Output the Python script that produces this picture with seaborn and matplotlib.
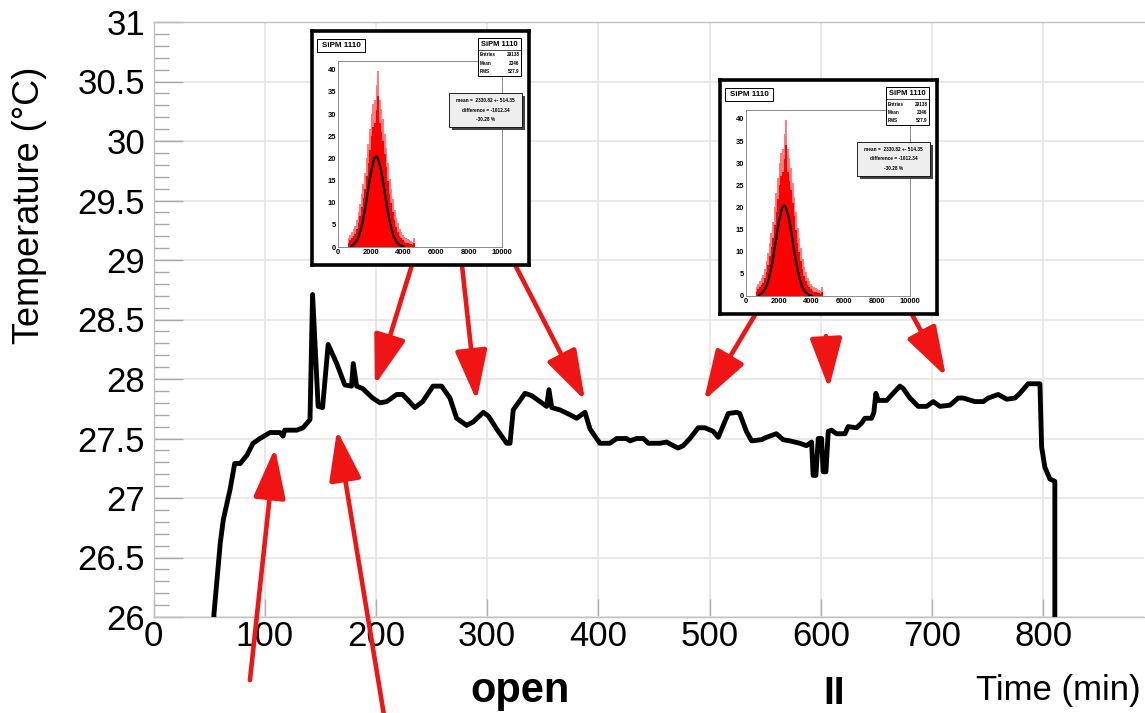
import numpy as np
import matplotlib
matplotlib.use("Agg")
import matplotlib.pyplot as plt
from matplotlib import font_manager
from matplotlib.patches import Rectangle
from matplotlib.ticker import MultipleLocator
import seaborn as sns

# ---------------- data ----------------
time_min = [54, 54.4, 60, 62.8, 68.8, 73, 78, 84, 89.5, 95.7, 104.7, 113.7, 116.5, 118,
            128.7, 134.4, 139, 140.7, 143, 148, 152, 157, 164.7, 172, 178, 179.6, 182.6,
            188, 197, 203.6, 209.6, 218.6, 224, 235, 242, 251.3, 259, 266.5, 272.5, 281.5,
            287.5, 296.5, 301, 308.5, 317.5, 320.5, 323.4, 329.4, 334, 340, 347.4, 353.4,
            355.5, 358, 365.4, 374.4, 380.4, 387.9, 392.4, 401.3, 410.3, 416.4, 425.3,
            428.3, 434.3, 440.3, 444.8, 455.3, 461.3, 467.2, 471.7, 476.2, 482.2, 489.7,
            495.7, 503.2, 507.7, 512.2, 516.7, 524.2, 527, 533, 537.7, 546.7, 551, 560,
            566, 572, 581, 587, 591.6, 593, 595.5, 597.6, 600.6, 602, 604.5, 606.6, 609.6,
            614, 621.6, 624.5, 632, 636.6, 639.5, 645.6, 647.6, 649.4, 651.5, 659, 665,
            671, 674, 680, 687.5, 695, 701, 707, 716, 723.4, 728, 738.4, 746, 750.4,
            759.4, 767, 774.4, 778.9, 786.3, 796.9, 798.4, 801.3, 805.8, 810.3, 810.3]
temp_c = [25.95, 26.03, 26.62, 26.82, 27.07, 27.29, 27.29, 27.36, 27.46, 27.5, 27.55, 27.55,
          27.52, 27.57, 27.57, 27.59, 27.64, 27.66, 28.71, 27.77, 27.76, 28.29, 28.13, 27.95,
          27.94, 28.13, 27.94, 27.92, 27.84, 27.8, 27.81, 27.87, 27.87, 27.76, 27.81, 27.94,
          27.94, 27.84, 27.67, 27.61, 27.64, 27.72, 27.69, 27.58, 27.46, 27.46, 27.74, 27.82,
          27.88, 27.86, 27.81, 27.77, 27.91, 27.76, 27.74, 27.7, 27.67, 27.72, 27.58, 27.46,
          27.46, 27.5, 27.5, 27.48, 27.5, 27.5, 27.46, 27.46, 27.47, 27.44, 27.42, 27.44,
          27.5, 27.59, 27.59, 27.56, 27.51, 27.61, 27.71, 27.72, 27.71, 27.56, 27.48, 27.49,
          27.51, 27.54, 27.49, 27.48, 27.46, 27.44, 27.47, 27.19, 27.19, 27.5, 27.5, 27.22,
          27.22, 27.56, 27.57, 27.54, 27.54, 27.6, 27.59, 27.63, 27.67, 27.67, 27.72, 27.88,
          27.82, 27.82, 27.88, 27.94, 27.92, 27.84, 27.77, 27.77, 27.81, 27.77, 27.78, 27.84,
          27.84, 27.81, 27.81, 27.84, 27.87, 27.83, 27.84, 27.88, 27.96, 27.96, 27.43, 27.26,
          27.16, 27.14, 25.9]

x_ticks = [0, 100, 200, 300, 400, 500, 600, 700, 800]
y_ticks = [26, 26.5, 27, 27.5, 28, 28.5, 29, 29.5, 30, 30.5, 31]
y_tick_labels = ["26", "26.5", "27", "27.5", "28", "28.5", "29", "29.5", "30", "30.5", "31"]

# arrows (time, temperature): tail -> head
arrow_tails = [(86.7, 25.47), (208, 25.13), (232.4, 28.96), (277.3, 28.96), (325, 28.96),
               (543.4, 28.58), (604.5, 28.36), (682, 28.54)]
arrow_heads = [(109.2, 27.42), (165, 27.57), (199, 27.95), (290.5, 27.82), (387.9, 27.82),
               (494.8, 27.82), (607.2, 27.92), (712.4, 28.02)]

# inset histogram (SiPM 1110)
hist_bin_centers = [650, 750, 850, 950, 1050, 1150, 1250, 1350, 1450, 1550, 1650, 1750, 1850,
                    1950, 2050, 2150, 2250, 2350, 2450, 2550, 2650, 2750, 2850, 2950, 3050,
                    3150, 3250, 3350, 3450, 3550, 3650, 3750, 3850, 3950, 4050, 4150, 4250,
                    4350, 4450, 4550, 4650]
hist_counts = [1, 1.5, 2, 2.5, 3, 4, 5.5, 7, 9, 11, 13, 16, 19, 22, 25, 27, 28, 31, 34, 28,
               26, 24, 21, 18, 15, 12, 10, 8, 6, 4.5, 3.5, 2.5, 2, 1.5, 1.2, 1, 0.8, 0.7,
               0.6, 0.5, 1]
fit_x = [800, 1000, 1200, 1400, 1600, 1800, 2000, 2200, 2330, 2400, 2600, 2800, 3000, 3200,
         3400, 3600, 3800, 4000]
fit_y = [0.24, 0.72, 1.82, 3.97, 7.48, 12.06, 16.7, 19.86, 20.5, 20.3, 17.86, 13.5, 8.77,
         4.9, 2.34, 0.97, 0.39, 0.14]
inset_x_ticks = [0, 2000, 4000, 6000, 8000, 10000]
inset_y_ticks = [0, 5, 10, 15, 20, 25, 30, 35, 40]
stats_rows = [("Entries", "29138"), ("Mean", "2346"), ("RMS", "527.9")]
fit_lines = ["mean =  2330.82 +- 514.35", "difference = -1012.34", "-30.28 %"]

# ---------------- style ----------------
sns.set_theme(style="white")
plt.rcParams["font.family"] = ["Liberation Sans", "DejaVu Sans"]
plt.rcParams["text.color"] = "black"
plt.rcParams["xtick.labelcolor"] = "black"
plt.rcParams["ytick.labelcolor"] = "black"
names = {f.name for f in font_manager.fontManager.ttflist}
narrow = "Liberation Sans Narrow" if "Liberation Sans Narrow" in names else None

W, H = 1145, 713


def fx(px):
    return px / W


def fy(py):
    return 1 - py / H


fig = plt.figure(figsize=(W / 100, H / 100), dpi=100)
fig.patch.set_facecolor("white")
ax = fig.add_axes([fx(153.5), fy(617), 990 / W, 595 / H])

sns.lineplot(x=time_min, y=temp_c, sort=False, estimator=None, color="black",
             lw=3.5, ax=ax, zorder=3)
ax.set_xlim(0, 890)
ax.set_ylim(26, 31)
ax.set_xticks(x_ticks)
ax.set_xticklabels([str(t) for t in x_ticks])
ax.set_yticks(y_ticks)
ax.set_yticklabels(y_tick_labels)
ax.yaxis.set_minor_locator(MultipleLocator(0.1))
ax.grid(True, which="major", color="#e3e3e3", lw=1.1, zorder=0)
ax.tick_params(axis="y", which="major", direction="in", length=21, width=1.0,
               color="#a8a8a8", labelsize=25, labelcolor="black", pad=6,
               left=True, right=False)
ax.tick_params(axis="y", which="minor", direction="in", length=11, width=1.0,
               color="#a8a8a8", left=True, right=False)
ax.tick_params(axis="x", which="major", direction="in", length=13, width=1.0,
               color="#b0b0b0", labelsize=25, labelcolor="black", pad=2,
               bottom=True, top=False)
for side, sp in ax.spines.items():
    sp.set_color("#c0c0c0")
    sp.set_linewidth(1.0)
ax.spines["right"].set_visible(False)
ax.set_xlabel("")
ax.set_ylabel("")

fig.text(fx(30), fy(205), "Temperature (°C)", rotation=90, ha="center", va="center",
         fontsize=26, color="black")
fig.text(fx(1141), fy(700), "Time (min)", ha="right", va="baseline", fontsize=25,
         color="black")
if narrow:
    fig.text(fx(520), fy(702), "open", ha="center", va="baseline", fontsize=36,
             fontweight="bold", family=narrow, color="black")
else:
    fig.text(fx(520), fy(702), "open", ha="center", va="baseline", fontsize=30,
             fontweight="bold", color="black")
fig.text(fx(834), fy(712), "II", ha="center", va="bottom", fontsize=28,
         fontweight="bold", color="black")

for tail, head in zip(arrow_tails, arrow_heads):
    ax.annotate("", xy=head, xytext=tail, annotation_clip=False,
                arrowprops=dict(arrowstyle="-|>,head_length=1.4,head_width=0.45",
                                mutation_scale=22, color="#f01414", lw=3.3,
                                shrinkA=0, shrinkB=0))


def draw_inset(dx, dy):
    box = fig.add_axes([fx(312 + dx), fy(265 + dy), 217 / W, 234 / H], zorder=5)
    box.set_xticks([])
    box.set_yticks([])
    box.set_facecolor("white")
    for sp in box.spines.values():
        sp.set_color("black")
        sp.set_linewidth(2.6)

    h = fig.add_axes([fx(338 + dx), fy(247 + dy), 164 / W, 186 / H], zorder=6)
    h.patch.set_alpha(0)
    h.errorbar(hist_bin_centers, hist_counts, yerr=np.sqrt(hist_counts), fmt="none",
               ecolor="#ff7070", elinewidth=1.3, zorder=1)
    h.bar(hist_bin_centers, hist_counts, width=100, color="#ff0000", edgecolor="none",
          zorder=2)
    sns.lineplot(x=fit_x, y=fit_y, ax=h, color="black", lw=1.6, zorder=3)
    h.set_xlim(0, 10000)
    h.set_ylim(0, 42)
    h.set_xticks(inset_x_ticks)
    h.set_yticks(inset_y_ticks)
    h.xaxis.set_minor_locator(MultipleLocator(500))
    h.yaxis.set_minor_locator(MultipleLocator(1))
    h.tick_params(which="major", direction="in", length=3, width=0.5, labelsize=5.4,
                  pad=1.2, color="#555555", labelcolor="black")
    h.tick_params(which="minor", direction="in", length=1.5, width=0.4, color="#777777")
    for lab in h.get_xticklabels() + h.get_yticklabels():
        lab.set_fontweight("bold")
    for sp in h.spines.values():
        sp.set_color("#777777")
        sp.set_linewidth(0.6)
    h.set_xlabel("")
    h.set_ylabel("")

    ov = fig.add_axes([fx(312 + dx), fy(265 + dy), 217 / W, 234 / H], zorder=7)
    ov.set_xlim(312, 529)
    ov.set_ylim(265, 31)
    ov.axis("off")
    # title box
    ov.add_patch(Rectangle((317, 39), 48, 13, fc="white", ec="black", lw=0.7))
    ov.text(341, 45.7, "SiPM 1110", ha="center", va="center", fontsize=5.8,
            fontweight="bold")
    # stats box
    ov.add_patch(Rectangle((478, 38), 43, 38, fc="white", ec="black", lw=0.7))
    ov.plot([478, 521], [50, 50], color="black", lw=0.5)
    ov.text(499.5, 44.3, "SiPM 1110", ha="center", va="center", fontsize=5.4,
            fontweight="bold")
    for i, (k, v) in enumerate(stats_rows):
        yy = 55 + i * 8.3
        ov.text(480, yy, k, ha="left", va="center", fontsize=3.3, fontweight="bold")
        ov.text(519.5, yy, v, ha="right", va="center", fontsize=3.3, fontweight="bold")
    # fit result box
    ov.add_patch(Rectangle((451.5, 95.5), 73, 34, fc="#444444", ec="none"))
    ov.add_patch(Rectangle((449, 93), 73, 34, fc="#eeeeee", ec="black", lw=0.6))
    for i, line in enumerate(fit_lines):
        ov.text(485.5, 100.5 + i * 9.5, line, ha="center", va="center", fontsize=3.4,
                fontweight="bold")


draw_inset(0, 0)
draw_inset(408, 49)

fig.savefig("out.png", dpi=100, facecolor="white")
